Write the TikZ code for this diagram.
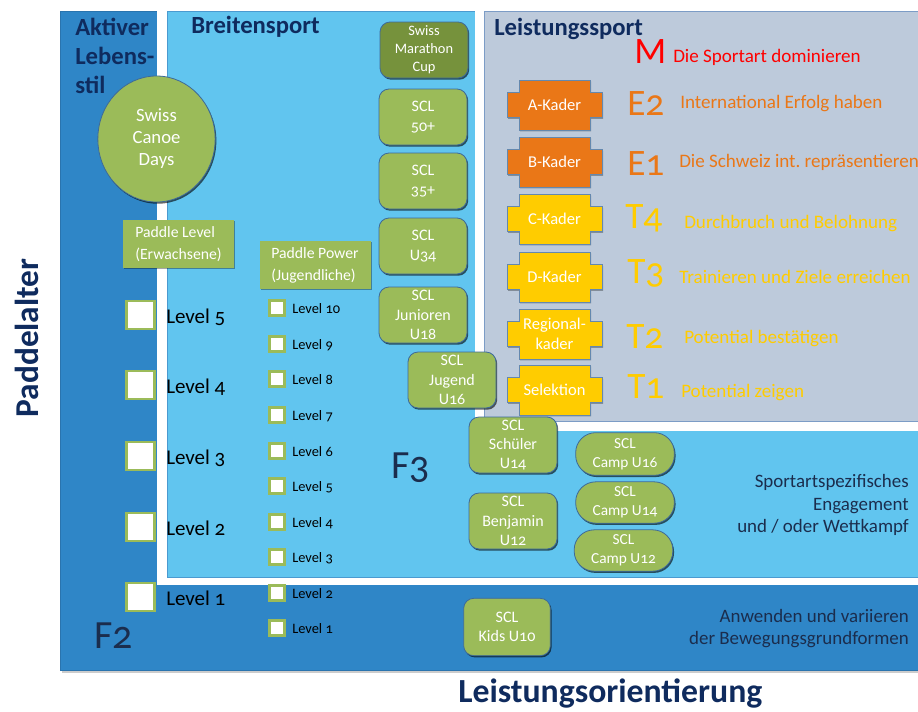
\documentclass[tikz,border=0pt]{standalone}
\usepackage{fontspec}
\setmainfont{Carlito}[Numbers=OldStyle]
\usetikzlibrary{shadows,shapes.geometric}
\definecolor{dkblue}{HTML}{2F86C7}
\definecolor{dkbline}{HTML}{2A74AE}
\definecolor{ltblue}{HTML}{61C5EF}
\definecolor{ltbline}{HTML}{4A9AD0}
\definecolor{greyp}{HTML}{BDCADB}
\definecolor{greyline}{HTML}{7C9CC6}
\definecolor{grn}{HTML}{9BBB59}
\definecolor{dkgrn}{HTML}{76923C}
\definecolor{boxline}{HTML}{3D6A9A}
\definecolor{navy}{HTML}{0F2B5E}
\definecolor{txtdark}{HTML}{1B2D4D}
\definecolor{kor}{HTML}{EA7717}
\definecolor{kye}{HTML}{FFCC00}
\definecolor{mred}{HTML}{FF0000}
\frenchspacing
\begin{document}
\begin{tikzpicture}[x=0.75pt,y=-0.75pt,
  shad/.style={drop shadow={shadow xshift=0.9pt,shadow yshift=-1.3pt,fill=black,opacity=0.6}},
  title/.style={font=\fontsize{18.5}{21.75}\selectfont\bfseries,text=navy,inner sep=0pt,align=left},
  sclbox/.style={shad,draw=boxline,line width=0.6pt,fill=grn,rounded corners=7.5pt,minimum width=66pt,minimum height=42pt,text=white,align=center,font=\fontsize{12}{14.5}\selectfont,inner sep=0pt},
  campbox/.style={shad,draw=boxline,line width=0.6pt,fill=grn,rounded corners=15pt,minimum width=74pt,minimum height=32pt,text=white,align=center,font=\fontsize{11.5}{14.5}\selectfont,inner sep=0pt},
  plbox/.style={drop shadow={shadow xshift=0.9pt,shadow yshift=-1.1pt,fill=black,opacity=0.35},fill=grn,minimum width=83.25pt,minimum height=36pt,text=white,align=left,font=\fontsize{11.8}{16.5}\selectfont,inner sep=0pt},
  bigbox/.style={draw=grn,line width=2.2pt,fill=white,minimum size=21pt,inner sep=0pt},
  smallbox/.style={draw=grn,line width=1.8pt,fill=white,minimum size=11pt,inner sep=0pt},
  biglabel/.style={font=\fontsize{15.75}{18}\selectfont,text=black,inner sep=0pt},
  smalllabel/.style={font=\fontsize{10.8}{12}\selectfont,text=black,inner sep=0pt},
  kadertext/.style={text=white,align=center,font=\fontsize{12.4}{15}\selectfont,inner sep=0pt},
  letter/.style={font=\fontsize{28}{30}\selectfont,inner sep=0pt},
  desc/.style={font=\fontsize{14.3}{16}\selectfont,inner sep=0pt},
  rdesc/.style={font=\fontsize{14.2}{16}\selectfont,text=txtdark,inner sep=0pt},
  fbig/.style={font=\fontsize{30}{32}\selectfont,text=txtdark,inner sep=0pt}
]
\useasboundingbox (0,0) rectangle (918,711);
% panels
\fill[black!20] (62,13) rectangle (920,673);
\filldraw[fill=dkblue,draw=dkbline,line width=0.5pt] (60,11) rectangle (918,670);
\fill[white] (157,11) rectangle (918,585);
\filldraw[fill=ltblue,draw=ltbline,line width=0.5pt] (167,11) rectangle (918,577);
\fill[white] (475,11) rectangle (918,431);
\filldraw[fill=greyp,draw=greyline,line width=0.5pt] (484,11) rectangle (918,421);
% titles
\node[title,anchor=base west] (akt) at (75,35) {Aktiver};
\node[title,anchor=base west] (akt2) at (75,64) {Lebens-};
\node[title,anchor=base west] (akt3) at (75,93) {stil};
\node[title,anchor=base west] (breit) at (191,33) {Breitensport};
\node[title,anchor=base west] (leist) at (494,35) {Leistungssport};
\node[font=\fontsize{25}{28}\selectfont\bfseries,text=navy,rotate=90,inner sep=0pt] (pad) at (27,338) {Paddelalter};
\node[font=\fontsize{25.3}{28}\selectfont\bfseries,text=navy,anchor=base west,inner sep=0pt] (lo) at (458,702) {Leistungsorientierung};
\node[fbig,anchor=base west] (f2) at (94,648) {F2};
\node[fbig,anchor=base west] (f3) at (391,478) {F3};
% circle
\node[ellipse,shad,fill=grn,draw=boxline,line width=0.6pt,minimum width=88pt,minimum height=94.5pt,text=white,align=center,font=\fontsize{14}{16.5}\selectfont,inner sep=0pt] (scd) at (156.5,139) {Swiss\\Canoe\\Days};
% paddle level boxes
\node[plbox] (ple) at (178.5,244) {Paddle Level\\(Erwachsene)};
\node[plbox] (plj) at (315,265) {Paddle Power\\(Jugendliche)};
% big checkboxes
\foreach \i/\y in {5/315,4/385,3/456,2/527,1/597}{
  \node[bigbox] (cb\i) at (140.5,\y) {};
  \node[biglabel,anchor=base west] (lb\i) at (166,\y+8) {Level \i};
}
% small checkboxes
\foreach \i/\y in {10/308,9/344,8/379,7/415,6/451,5/486,4/522,3/557,2/593,1/628}{
  \node[smallbox] (sb\i) at (277,\y) {};
  \node[smalllabel,anchor=base west] (sl\i) at (292,\y+5) {Level \i};
}
% SCL boxes
\node[sclbox,fill=dkgrn,font=\fontsize{10.8}{13.5}\selectfont] (smc) at (424,50) {Swiss\\Marathon\\Cup};
\node[sclbox] (s50) at (423,117) {SCL\\50+};
\node[sclbox] (s35) at (423,181) {SCL\\35+};
\node[sclbox] (s34) at (423,246) {SCL\\U34};
\node[sclbox] (s18) at (423,315) {SCL\\Junioren\\U18};
\node[sclbox] (s16) at (452,380) {SCL\\Jugend\\U16};
\node[sclbox] (s14) at (513,445) {SCL\\Schüler\\U14};
\node[sclbox] (s12) at (513,521) {SCL\\Benjamin\\U12};
\node[sclbox,minimum width=65pt,minimum height=43pt] (s10) at (507,627) {SCL\\Kids U10};
% camp boxes
\node[campbox] (c16) at (625,454) {SCL\\Camp U16};
\node[campbox,minimum height=31pt] (c14) at (625,502.5) {SCL\\Camp U14};
\node[campbox,minimum height=31pt] (c12) at (623.5,550.5) {SCL\\Camp U12};
% Kader shapes
\foreach \n/\y/\c/\t in {A/105/kor/A-Kader,B/162/kor/B-Kader,C/219/kye/C-Kader,D/277/kye/D-Kader,R/334/kye/{Regional-\\kader},S/390/kye/Selektion}{
  \filldraw[fill=\c,draw=boxline!80,line width=0.5pt,drop shadow={shadow xshift=0.8pt,shadow yshift=-1pt,fill=black,opacity=0.3}]
    (519,\y-25) -- (590,\y-25) -- (590,\y-12.5) -- (602,\y-12.5) -- (602,\y+12.5) -- (590,\y+12.5)
    -- (590,\y+25) -- (519,\y+25) -- (519,\y+12.5) -- (507,\y+12.5) -- (507,\y-12.5) -- (519,\y-12.5) -- cycle;
  \node[kadertext] (k\n) at (554.5,\y) {\t};
}
% letters and descriptions
\node[letter,text=mred,anchor=base west] (lm) at (634,63) {M};
\node[desc,text=mred,anchor=base west] (dm) at (673,62) {Die Sportart dominieren};
\node[letter,text=kor,anchor=base west] (le2) at (627,115) {E2};
\node[desc,text=kor,anchor=base west] (de2) at (680,108) {International Erfolg haben};
\node[letter,text=kor,anchor=base west] (le1) at (627,175) {E1};
\node[desc,text=kor,anchor=base west] (de1) at (679,167) {Die Schweiz int. repräsentieren};
\node[letter,text=kye,anchor=base west] (lt4) at (625,228) {T4};
\node[desc,text=kye,anchor=base west] (dt4) at (684,228) {Durchbruch und Belohnung};
\node[letter,text=kye,anchor=base west] (lt3) at (627,283) {T3};
\node[desc,text=kye,anchor=base west] (dt3) at (679,283) {Trainieren und Ziele erreichen};
\node[letter,text=kye,anchor=base west] (lt2) at (626,348) {T2};
\node[desc,text=kye,anchor=base west] (dt2) at (684,343) {Potential bestätigen};
\node[letter,text=kye,anchor=base west] (lt1) at (627,398) {T1};
\node[desc,text=kye,anchor=base west] (dt1) at (681,397) {Potential zeigen};
% right descriptions
\node[rdesc,anchor=base east] (r1) at (909,487) {Sportartspezifisches};
\node[rdesc,anchor=base east] (r2) at (909,510) {Engagement};
\node[rdesc,anchor=base east] (r3) at (909,532) {und / oder Wettkampf};
\node[rdesc,anchor=base east] (r4) at (909,622) {Anwenden und variieren};
\node[rdesc,anchor=base east] (r5) at (909,644) {der Bewegungsgrundformen};
\end{tikzpicture}
\end{document}
